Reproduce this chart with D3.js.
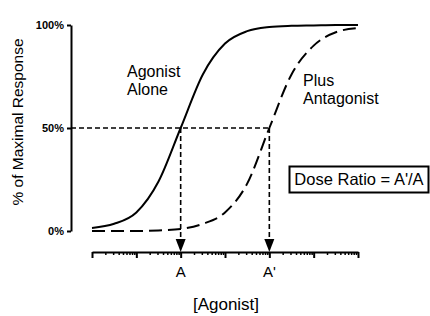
<!DOCTYPE html>
<html>
<head>
<meta charset="utf-8">
<script src="https://cdn.jsdelivr.net/npm/d3@7"></script>
<style>
  body { margin: 0; background: #fff; }
  svg text { font-family: Arial, "Liberation Sans", sans-serif; fill: #000; }
</style>
</head>
<body>
<div id="chart"></div>
<script>
// log10 of agonist concentration (A = 0, A' = 2)
const logConc = [-2, -1.5, -1, -0.5, 0, 0.5, 1, 1.5, 2, 2.5, 3, 3.5, 4];
// % of maximal response
const agonistAlone = [1.5, 3.5, 9, 24, 50, 76, 91, 97, 99, 99.6, 99.8, 100, 100];
const plusAntagonist = [0, 0, 0, 0.3, 1, 3.5, 9, 23, 50, 76, 90, 96.5, 98.5];
const yTicks = [0, 50, 100];
const markerLabels = ['A', "A'"];
const markerLog = [0, 2];

const width = 430, height = 316;

const svg = d3.select('#chart')
    .append('svg')
    .attr('width', width)
    .attr('height', height);

// Scales
const x = d3.scaleLog()
    .domain([1e-2, 1e4])
    .range([92, 358]);

const y = d3.scaleLinear()
    .domain([0, 100])
    .range([231, 25]);

const axisY = 252;

// Y axis
svg.append('g')
    .attr('transform', 'translate(71,0)')
    .call(d3.axisLeft(y).tickValues(yTicks).tickSize(4).tickSizeOuter(0)
        .tickFormat(d => d + '%'))
    .call(g => g.select('.domain').attr('stroke-width', 2))
    .call(g => g.selectAll('line').attr('stroke-width', 2))
    .call(g => g.selectAll('text')
        .attr('x', -7)
        .style('font-size', '11px')
        .style('font-weight', 'bold')
        .style('font-family', 'Arial, "Liberation Sans", sans-serif'));

// X axis: major decade ticks and minor 2..9 ticks
const majorTicks = [], minorTicks = [];
for (let k = -2; k <= 4; k++) {
    majorTicks.push(10 ** k);
    if (k < 4) for (let m = 2; m <= 9; m++) minorTicks.push(m * 10 ** k);
}

svg.append('g')
    .attr('transform', `translate(0,${axisY})`)
    .call(d3.axisBottom(x).tickValues(minorTicks).tickSize(3).tickSizeOuter(0).tickFormat(''))
    .call(g => g.select('.domain').attr('stroke-width', 2))
    .call(g => g.selectAll('line').attr('stroke-width', 1.5));

svg.append('g')
    .attr('transform', `translate(0,${axisY})`)
    .call(d3.axisBottom(x).tickValues(majorTicks).tickSize(6).tickSizeOuter(0).tickFormat(''))
    .call(g => g.select('.domain').remove())
    .call(g => g.selectAll('line').attr('stroke-width', 2));

// Reference lines at the 50% points
svg.append('line')
    .attr('x1', 71).attr('x2', x(10 ** markerLog[1]))
    .attr('y1', y(50)).attr('y2', y(50))
    .attr('stroke', '#000')
    .attr('stroke-width', 1.6)
    .attr('stroke-dasharray', '5,3');

markerLog.forEach((l, i) => {
    const mx = x(10 ** l);
    svg.append('line')
        .attr('x1', mx).attr('x2', mx)
        .attr('y1', y(50)).attr('y2', axisY - 12)
        .attr('stroke', '#000')
        .attr('stroke-width', 1.6)
        .attr('stroke-dasharray', '5,3');

    // arrowhead
    svg.append('path')
        .attr('d', `M${mx - 5},${axisY - 13} L${mx + 5},${axisY - 13} L${mx},${axisY} Z`)
        .attr('fill', '#000');

    svg.append('text')
        .attr('x', mx)
        .attr('y', axisY + 25)
        .attr('text-anchor', 'middle')
        .style('font-size', '15px')
        .text(markerLabels[i]);
});

// Curves
const line = d3.line()
    .x((d, i) => x(10 ** logConc[i]))
    .y(d => y(d))
    .curve(d3.curveMonotoneX);

svg.append('path')
    .datum(agonistAlone)
    .attr('fill', 'none')
    .attr('stroke', '#000')
    .attr('stroke-width', 2)
    .attr('d', line);

svg.append('path')
    .datum(plusAntagonist)
    .attr('fill', 'none')
    .attr('stroke', '#000')
    .attr('stroke-width', 2)
    .attr('stroke-dasharray', '13,6')
    .attr('d', line);

// Curve labels
const labels = [
    {lines: ['Agonist', 'Alone'], x: 127, y: 77},
    {lines: ['Plus', 'Antagonist'], x: 303, y: 86}
];
labels.forEach(lb => {
    const t = svg.append('text')
        .attr('x', lb.x)
        .attr('y', lb.y)
        .style('font-size', '16px');
    lb.lines.forEach((s, i) => {
        t.append('tspan')
            .attr('x', lb.x)
            .attr('dy', i === 0 ? 0 : 18)
            .text(s);
    });
});

// Dose ratio box
svg.append('rect')
    .attr('x', 289.5).attr('y', 166.5)
    .attr('width', 139).attr('height', 26)
    .attr('fill', 'none')
    .attr('stroke', '#000')
    .attr('stroke-width', 2);

svg.append('text')
    .attr('x', 359)
    .attr('y', 185)
    .attr('text-anchor', 'middle')
    .style('font-size', '16.5px')
    .text("Dose Ratio = A'/A");

// Axis titles
svg.append('text')
    .attr('transform', 'translate(23,122) rotate(-90)')
    .attr('text-anchor', 'middle')
    .style('font-size', '15.5px')
    .text('% of Maximal Response');

svg.append('text')
    .attr('x', 226)
    .attr('y', 310)
    .attr('text-anchor', 'middle')
    .style('font-size', '17px')
    .text('[Agonist]');
</script>
</body>
</html>
